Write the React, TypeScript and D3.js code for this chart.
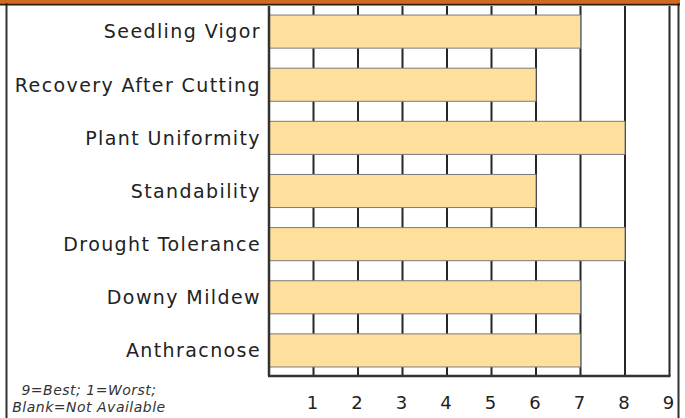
import React from "react";
import * as d3 from "d3";

// ratings, 9 = best
const traits = [
  "Seedling Vigor",
  "Recovery After Cutting",
  "Plant Uniformity",
  "Standability",
  "Drought Tolerance",
  "Downy Mildew",
  "Anthracnose",
];
const ratings = [7, 6, 8, 6, 8, 7, 7];
const ticks = [1, 2, 3, 4, 5, 6, 7, 8, 9];
const noteLines = ["9=Best; 1=Worst;", "Blank=Not Available"];

const W = 685;
const H = 418;
const font = "'DejaVu Sans', sans-serif";

export default function App() {
  const x = d3.scaleLinear().domain([0, 9]).range([269, 669.5]);
  const y = d3
    .scaleBand()
    .domain(traits)
    .range([6, 376])
    .paddingInner(0.377)
    .paddingOuter(0.17);

  const plotTop = 6;
  const plotBottom = 376;

  return (
    <svg
      width={W}
      height={H}
      style={{ position: "absolute", left: 0, top: 0, display: "block" }}
    >
      <rect x={0} y={0} width={W} height={H} fill="#fff" />

      {/* frame */}
      <line x1={6.5} x2={6.5} y1={0} y2={H} stroke="#333" strokeWidth={2} />
      <line x1={678.5} x2={678.5} y1={0} y2={H} stroke="#333" strokeWidth={2} />

      {/* grid lines */}
      {ticks.map((t) => (
        <line
          key={t}
          x1={x(t)}
          x2={x(t)}
          y1={plotTop}
          y2={plotBottom}
          stroke="#262626"
          strokeWidth={2}
        />
      ))}

      {/* bars */}
      {traits.map((d, i) => (
        <rect
          key={d}
          x={x(0)}
          y={y(d)}
          width={x(ratings[i]) - x(0)}
          height={y.bandwidth()}
          fill="#FEE09C"
          stroke="#7a7a7a"
          strokeWidth={1}
        />
      ))}

      {/* axes */}
      <line x1={x(0)} x2={x(0)} y1={plotTop} y2={plotBottom} stroke="#333" strokeWidth={2.5} />
      <line x1={x(0) - 1} x2={x(9) + 1} y1={plotBottom} y2={plotBottom} stroke="#333" strokeWidth={2.5} />

      {/* category labels */}
      {traits.map((d) => (
        <text
          key={d}
          x={261}
          y={(y(d) ?? 0) + y.bandwidth() / 2}
          dy="0.36em"
          textAnchor="end"
          fontFamily={font}
          fontSize={19}
          letterSpacing={1.4}
          fill="#222"
        >
          {d}
        </text>
      ))}

      {/* tick labels */}
      {ticks.map((t) => (
        <text
          key={t}
          x={x(t) - 1}
          y={403}
          dy="0.36em"
          textAnchor="middle"
          fontFamily={font}
          fontSize={18}
          fill="#222"
        >
          {t}
        </text>
      ))}

      {/* note */}
      {noteLines.map((s, i) => (
        <text
          key={s}
          x={89}
          y={390 + i * 17}
          dy="0.35em"
          textAnchor="middle"
          fontFamily={font}
          fontStyle="italic"
          fontSize={14}
          letterSpacing={0.5}
          fill="#333"
        >
          {s}
        </text>
      ))}

      {/* header band */}
      <rect x={0} y={0} width={680} height={3.5} fill="#D2691E" />
      <line x1={0} x2={680} y1={4.5} y2={4.5} stroke="#2a1d0e" strokeWidth={2} />
    </svg>
  );
}
